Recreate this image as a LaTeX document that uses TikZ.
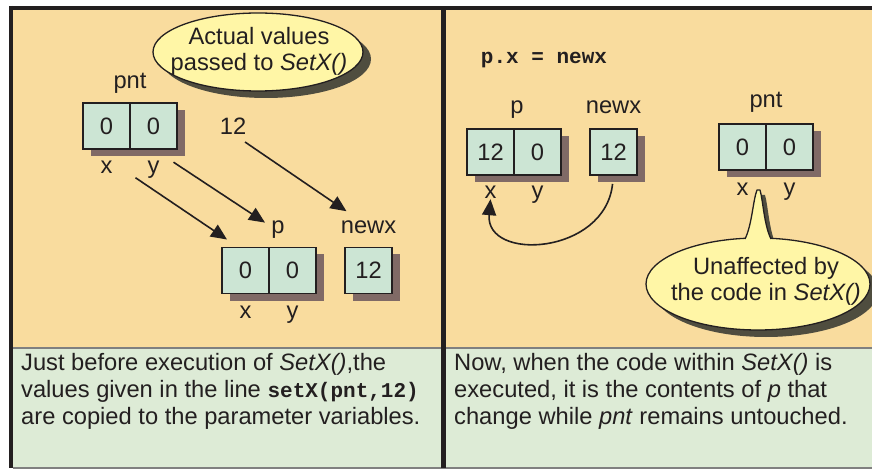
\documentclass[tikz,border=0pt]{standalone}
\usepackage{fontspec}
\setmainfont{Liberation Sans}
\setmonofont{Liberation Mono}
\usetikzlibrary{arrows.meta, shapes.geometric, shadows, positioning}

\definecolor{panelTan}{RGB}{249,220,158}
\definecolor{panelGreen}{RGB}{221,235,214}
\definecolor{cellGreen}{RGB}{204,229,212}
\definecolor{boxShade}{RGB}{128,106,102}
\definecolor{bubFill}{RGB}{255,246,166}
\definecolor{bubShade}{RGB}{79,77,63}
\definecolor{ink}{RGB}{35,31,32}

\tikzset{
    cell/.style={draw=ink, line width=1.3pt, fill=cellGreen, text=ink,
        minimum width=47pt, minimum height=46pt, inner sep=0pt, outer sep=0pt,
        drop shadow={shadow xshift=8pt, shadow yshift=-7pt, fill=boxShade, opacity=1}},
    lbl/.style={inner sep=0pt, text=ink},
    bubble/.style={ellipse, draw=ink, line width=1.3pt, fill=bubFill, inner sep=0pt,
        drop shadow={shadow xshift=8pt, shadow yshift=-7pt, fill=bubShade, opacity=1}},
    arr/.style={-{Triangle[length=16pt,width=14pt]}, line width=1.6pt, draw=ink},
    code/.style={inner sep=0pt, text=ink, font=\fontsize{21}{26}\selectfont\ttfamily\bfseries}
}

\begin{document}
\begin{tikzpicture}[x=1pt, y=-1pt, font=\fontsize{23.7}{26}\selectfont]
    \useasboundingbox (0,0) rectangle (872,470);

    % panels and frame
    \fill[panelTan] (13,10) rectangle (872,348);
    \fill[panelGreen] (13,348) rectangle (872,468);
    \draw[gray, line width=1.5pt] (13,348) -- (872,348);
    \draw[gray, line width=1.5pt] (13,468) -- (872,468);
    \draw[ink, line width=4pt] (9,8) -- (872,8);
    \draw[ink, line width=4pt] (11,6) -- (11,468);
    \draw[ink, line width=5pt] (443.5,8) -- (443.5,468);

    % left panel: values passed in
    \node[bubble, minimum width=210pt, minimum height=78pt] (actualb) at (258,52) {};
    \node[lbl, align=center] (actual) at (259,51) {Actual values\\passed to \textit{SetX()}};

    \node[cell] (pntx) at (106.5,126) {0};
    \node[cell, right=0pt of pntx] (pnty) {0};
    \node[lbl, anchor=base] (pntname) at ([yshift=14pt]pntx.north east) {pnt};
    \node[lbl, anchor=base] (pntxl) at ([yshift=-25pt]pntx.south) {x};
    \node[lbl, anchor=base] (pntyl) at ([yshift=-25pt]pnty.south) {y};
    \node[lbl] (twelve) at (233,126) {12};

    \node[cell] (px) at (245.5,270.5) {0};
    \node[cell, right=0pt of px] (py) {0};
    \node[lbl, anchor=base] (pname) at ([xshift=9pt, yshift=14pt]px.north east) {p};
    \node[lbl, anchor=base] (pxl) at ([yshift=-25pt]px.south) {x};
    \node[lbl, anchor=base] (pyl) at ([yshift=-25pt]py.south) {y};
    \node[cell, right=29pt of py] (newx) {12};
    \node[lbl, anchor=base] (newxname) at ([yshift=14pt]newx.north) {newx};

    \draw[arr] ([xshift=12pt, yshift=-16pt]twelve.center) -- ([xshift=-22pt, yshift=16pt]newxname.center);
    \draw[arr] ([xshift=20pt, yshift=8pt]pntyl.center) -- ([xshift=-13pt, yshift=7pt]pname.center);
    \draw[arr] ([xshift=29pt, yshift=-10pt]pntxl.center) -- ([xshift=5pt, yshift=8pt]px.north west);

    % right panel: after the assignment
    \node[code] (assign) at (544,60) {p.x = newx};

    \node[cell] (px2) at (490.5,152) {12};
    \node[cell, right=0pt of px2] (py2) {0};
    \node[lbl, anchor=base] (p2name) at ([xshift=3pt, yshift=15pt]px2.north east) {p};
    \node[lbl, anchor=base] (px2l) at ([yshift=-24pt]px2.south) {x};
    \node[lbl, anchor=base] (py2l) at ([yshift=-24pt]py2.south) {y};
    \node[cell, right=29pt of py2] (newx2) {12};
    \node[lbl, anchor=base] (newx2name) at ([yshift=15pt]newx2.north) {newx};

    \node[cell] (pnt2x) at (742.5,147) {0};
    \node[cell, right=0pt of pnt2x] (pnt2y) {0};
    \node[lbl, anchor=base] (pnt2name) at ([yshift=16pt]pnt2x.north east) {pnt};
    \node[lbl, anchor=base] (pnt2xl) at ([yshift=-26pt]pnt2x.south) {x};
    \node[lbl, anchor=base] (pnt2yl) at ([yshift=-26pt]pnt2y.south) {y};

    \draw[arr, shorten <=9pt] (newx2.south) .. controls (605,255) and (485,262) .. (px2l.south);

    % callout under pnt
    \fill[bubShade] (750,245) .. controls (757,230) and (758,205) .. (762,195)
        -- (765,195) .. controls (768,205) and (769,230) .. (776,245) -- cycle;
    \node[bubble, minimum width=224pt, minimum height=92pt] (unaffb) at (758,284) {};
    \fill[bubFill] (745,252) -- (745,240) .. controls (752,225) and (753,200) .. (757,190)
        -- (760,190) .. controls (763,200) and (764,225) .. (771,240) -- (771,252) -- cycle;
    \draw[ink, line width=1.3pt, line join=round] (745,239) .. controls (752,225) and (753,200) .. (757,190)
        -- (760,190) .. controls (763,200) and (764,225) .. (771,239);
    \node[lbl, align=center] (unaff) at (766,281) {Unaffected by\\the code in \textit{SetX()}};

    % captions
    \node[lbl, anchor=north west, align=left, font=\fontsize{23.7}{27}\selectfont] (before) at (21,353)
        {Just before execution of \textit{SetX()},the\\
         values given in the line {\fontsize{21}{27}\selectfont\ttfamily\bfseries setX(pnt,12)}\\
         are copied to the parameter variables.};
    \node[lbl, anchor=north west, align=left, font=\fontsize{23.7}{27}\selectfont] (after) at (454,353)
        {Now, when the code within \textit{SetX()} is\\
         executed, it is the contents of \textit{p} that\\
         change while \textit{pnt} remains untouched.};
\end{tikzpicture}
\end{document}
